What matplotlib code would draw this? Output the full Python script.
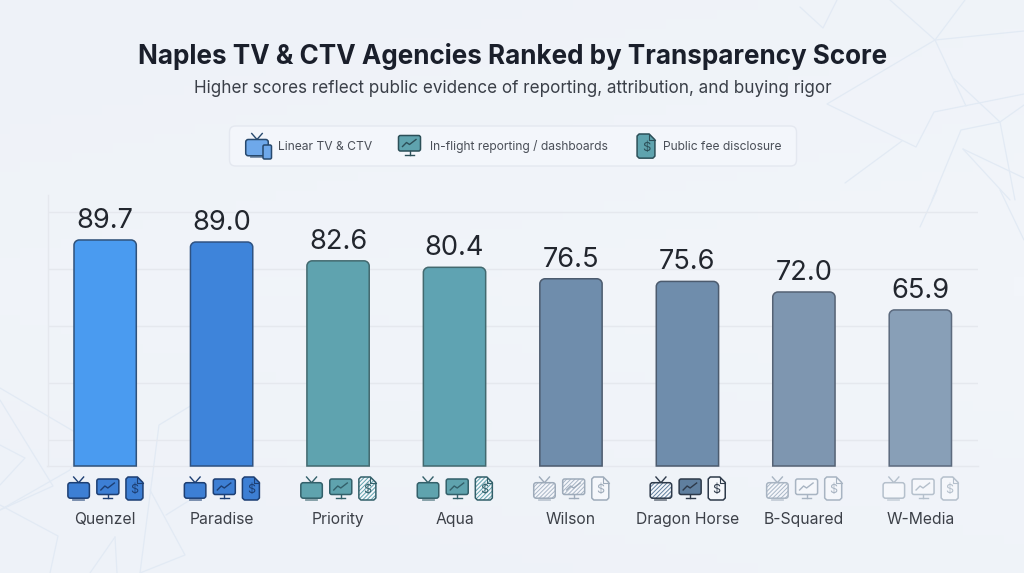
import matplotlib
matplotlib.use("Agg")
import matplotlib.pyplot as plt
import numpy as np
from matplotlib.patches import FancyBboxPatch, PathPatch, Polygon
from matplotlib.path import Path

plt.rcParams['font.family'] = ['Inter', 'DejaVu Sans']
plt.rcParams['hatch.linewidth'] = 0.7

agencies = ["Quenzel", "Paradise", "Priority", "Aqua", "Wilson", "Dragon Horse", "B-Squared", "W-Media"]
scores = [89.7, 89.0, 82.6, 80.4, 76.5, 75.6, 72.0, 65.9]
bar_colors = ["#4A9BF0", "#3E84DA", "#5FA3AF", "#5FA3B2", "#6F8DAC", "#6F8DAC", "#7E96B0", "#889FB7"]
bar_edges = ["#30527A", "#2E5282", "#42696F", "#42696F", "#4C5B6E", "#4C5B6E", "#556274", "#5C6A7E"]
grid_values = [21.6, 41.0, 60.4, 79.8, 99.2]
tv_state = ["full", "full", "full", "full", "hatch", "hatch", "hatch", "empty"]
monitor_state = ["full", "full", "full", "full", "hatch", "full", "empty", "empty"]
fee_state = ["full", "full", "hatch", "hatch", "empty", "empty", "empty", "empty"]
icon_fill = ["#3D7FD4", "#3D7FD4", "#5FA3AE", "#5FA3AE", "#A9B7C7", "#5F7F9F", "#A9B7C7", "#C5CFDA"]
icon_edge = ["#1D3F73", "#1D3F73", "#33606A", "#33606A", "#9EABBA", "#2E3A4A", "#A8B4C2", "#B5C0CC"]
title = "Naples TV & CTV Agencies Ranked by Transparency Score"
subtitle = "Higher scores reflect public evidence of reporting, attribution, and buying rigor"
legend_labels = ["Linear TV & CTV", "In-flight reporting / dashboards", "Public fee disclosure"]

W, H = 1024, 573
BG = "#F0F3F9"
fig = plt.figure(figsize=(W / 100, H / 100), dpi=100, facecolor=BG)


def overlay(zorder):
    a = fig.add_axes([0, 0, 1, 1], zorder=zorder)
    a.set_xlim(0, W)
    a.set_ylim(H, 0)
    a.axis("off")
    a.patch.set_alpha(0)
    return a


# ---------- background decoration
bg = overlay(0)
yy, xx = np.mgrid[0:1:60j, 0:1:100j]
glow = 0.5 * xx * 0.4 + 0.5 * (1 - np.abs(yy - .5))
bg.imshow(glow, extent=(0, W, H, 0), aspect="auto", cmap=matplotlib.colors.LinearSegmentedColormap.from_list("b", ["#EEF2F8", "#F2F5FA"]), zorder=0)
bg.set_xlim(0, W)
bg.set_ylim(H, 0)
deco = [
    [(800, 7), (823, 28), (837, 0)],
    [(890, 0), (935, 40), (965, 0)],
    [(1024, 31), (935, 40), (827, 104), (916, 147), (934, 112), (1024, 94)],
    [(935, 40), (966, 106)],
    [(954, 79), (1000, 122), (1024, 105)],
    [(845, 183), (902, 141)],
    [(932, 200), (961, 130), (1000, 122), (1015, 200)],
    [(963, 149), (1010, 200)],
    [(963, 149), (1024, 178)],
    [(937, 190), (920, 227)],
    [(1000, 190), (1024, 240)],
    [(0, 388), (80, 435)],
    [(0, 400), (53, 486), (0, 510)],
    [(0, 445), (25, 458), (0, 485)],
    [(0, 510), (70, 470), (75, 460)],
    [(0, 505), (58, 536), (50, 573)],
    [(115, 537), (90, 573)],
    [(115, 537), (117, 573)],
    [(192, 405), (159, 425), (140, 573)],
    [(150, 490), (185, 555), (140, 573)],
    [(166, 515), (190, 500)],
]
for seg in deco:
    xs, ys = zip(*seg)
    bg.plot(xs, ys, color="#E2EAF4", lw=0.9, solid_capstyle="round", zorder=1)

# ---------- main chart
PX_L, PX_R, PX_T, PX_B = 47.5, 978.0, 195.0, 466.0
ax = fig.add_axes([PX_L / W, 1 - PX_B / H, (PX_R - PX_L) / W, (PX_B - PX_T) / H], zorder=1)
ax.patch.set_alpha(0)
ax.set_xlim(-0.495, 7.495)
ax.set_ylim(12.8, 105.0)
ax.set_yticks(grid_values)
ax.set_yticklabels([])
ax.grid(axis="y", color="#E5E8EE", lw=1.0, zorder=0)
ax.set_axisbelow(True)
for s in ("top", "right"):
    ax.spines[s].set_visible(False)
for s in ("left", "bottom"):
    ax.spines[s].set_color("#E5E8EE")
    ax.spines[s].set_linewidth(1.0)
ax.tick_params(axis="both", length=0)
x = np.arange(len(agencies))
ax.set_xticks(x)
ax.set_xticklabels(agencies, fontsize=11.3, color="#3C4048")
ax.tick_params(axis="x", pad=33)

BAR_W = 0.535
bars = ax.bar(x, scores, width=BAR_W, color=bar_colors, linewidth=0, zorder=3)
rx, ry = 0.045, 1.75
k = 0.45
for xi, v, b, ec in zip(x, scores, bars, bar_edges):
    l, r = xi - BAR_W / 2, xi + BAR_W / 2
    y0 = ax.get_ylim()[0]
    verts = [(l, y0), (l, v - ry), (l, v - ry * k), (l + rx * k, v), (l + rx, v), (r - rx, v),
             (r - rx * k, v), (r, v - ry * k), (r, v - ry), (r, y0), (l, y0)]
    codes = [Path.MOVETO, Path.LINETO, Path.CURVE4, Path.CURVE4, Path.CURVE4, Path.LINETO,
             Path.CURVE4, Path.CURVE4, Path.CURVE4, Path.LINETO, Path.CLOSEPOLY]
    outline = PathPatch(Path(verts, codes), facecolor="none", edgecolor=ec, lw=1.1, zorder=4, clip_on=False)
    ax.add_patch(outline)
    b.set_clip_path(Path(verts, codes), ax.transData)
    ax.annotate(f"{v:.1f}", (xi, v), xytext=(0, 13.8), textcoords="offset points",
                ha="center", va="center", fontsize=19.6, color="#22262E", zorder=5)

# ---------- icons and legend overlay
top = overlay(3)


def styled(patch_factory, state, fill, edge, lw=1.1, z=5, hatch_col=None):
    """Draw a shape filled, hatched or empty, with an outline."""
    base = {"full": fill, "hatch": "#F5F7FB", "empty": "#F5F7FB"}[state]
    top.add_patch(patch_factory(facecolor=base, edgecolor="none", lw=0, zorder=z))
    if state == "hatch":
        top.add_patch(patch_factory(facecolor="none", edgecolor=hatch_col or fill, hatch="////////", lw=0, zorder=z + .1))
    top.add_patch(patch_factory(facecolor="none", edgecolor=edge, lw=lw, zorder=z + .2))


def tv(cx, state, fill, edge, y=477.0, s=1.0):
    w, h = 21.5 * s, 15.5 * s
    by = y + 5.7 * s
    top.plot([cx - 5 * s, cx, cx + 5 * s], [y, by, y], color=edge, lw=1.0, zorder=5)
    styled(lambda **kw: FancyBboxPatch((cx - w / 2, by), w, h, boxstyle=f"round,pad=0,rounding_size={2.5 * s}", **kw),
           state, fill, edge)
    top.plot([cx - 5.5 * s, cx + 5.5 * s], [by + h + 1.6 * s] * 2, color=edge, lw=1.3, alpha=.6, zorder=5)


def monitor(cx, state, fill, edge, y=479.0, s=1.0):
    w, h = 22.0 * s, 15.5 * s
    styled(lambda **kw: FancyBboxPatch((cx - w / 2, y), w, h, boxstyle=f"round,pad=0,rounding_size={2 * s}", **kw),
           state, fill, edge)
    top.plot(np.array([-7, -3, 0, 6.5]) * s + cx, np.array([11, 7, 9, 4]) * s + y, color=edge, lw=1.0, zorder=6)
    top.plot([cx, cx], [y + h, y + h + 3.5 * s], color=edge, lw=1.0, zorder=5)
    top.plot([cx - 4.5 * s, cx + 4.5 * s], [y + h + 3.7 * s] * 2, color=edge, lw=1.0, zorder=5)


def doc(cx, state, fill, edge, y=477.0, s=1.0):
    w, h = 17.0 * s, 23.0 * s
    l, r, b = cx - w / 2, cx + w / 2, y + h
    c = 5.5 * s
    pts = [(l + 2, y), (r - c, y), (r, y + c), (r, b - 2), (r - 2, b), (l + 2, b), (l, b - 2), (l, y + 2)]
    styled(lambda **kw: Polygon(pts, closed=True, joinstyle="round", **kw), state, fill, edge)
    top.plot([r - c, r - c, r], [y, y + c, y + c], color=edge, lw=.8, zorder=6)
    top.text(cx, y + 13.5 * s, "$", ha="center", va="center", fontsize=9 * s, color=edge, zorder=7)


for i, c in enumerate(ax.transData.transform(np.column_stack([x, np.full(len(x), 50.0)]))[:, 0]):
    tv(c - 26.5, tv_state[i], icon_fill[i], icon_edge[i])
    monitor(c + 2.7, monitor_state[i], icon_fill[i], icon_edge[i])
    doc(c + 29.3, fee_state[i], icon_fill[i], icon_edge[i])

top.add_patch(FancyBboxPatch((229.5, 126), 567, 40, boxstyle="round,pad=0,rounding_size=6",
                             facecolor="#F3F6FB", edgecolor="#E4E8F0", lw=1.0, zorder=2))
tv(257, "full", "#6EA8EA", "#27496E", y=133.5, s=1.05)
top.add_patch(FancyBboxPatch((263, 145), 8.5, 14, boxstyle="round,pad=0,rounding_size=1.5",
                             facecolor="#6EA8EA", edgecolor="#27496E", lw=1.1, zorder=8))
monitor(409.5, "full", "#5FA3AE", "#2C4F58", y=135.5, s=1.0)
doc(646, "full", "#5FA3AE", "#2C4F58", y=134, s=1.05)
for tx, lab in zip((277.5, 429.5, 663), legend_labels):
    top.text(tx, 150, lab, ha="left", va="baseline", fontsize=8.7, color="#4A4F58", zorder=5)

top.text(513, 56.5, title, ha="center", va="center", fontsize=18.75, fontweight="bold", color="#1A1F2B", zorder=5)
top.text(513, 88.5, subtitle, ha="center", va="center", fontsize=12.28, color="#3A3F48", zorder=5)

fig.savefig("out.png", dpi=100, facecolor=BG)
